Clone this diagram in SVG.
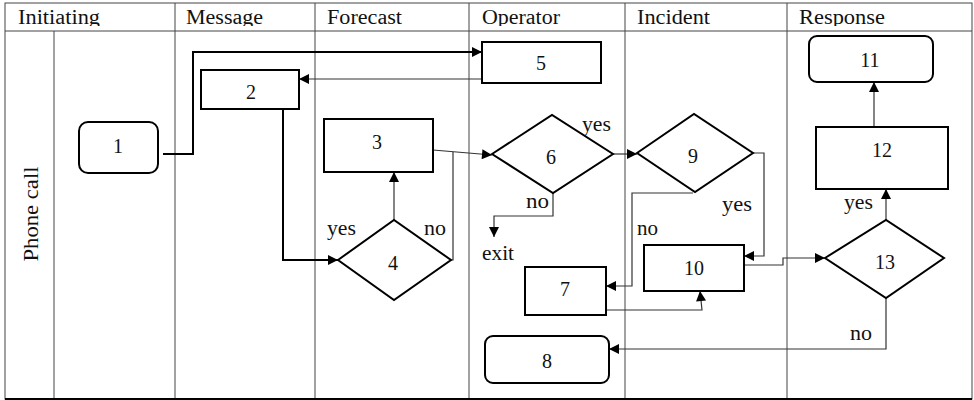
<svg xmlns="http://www.w3.org/2000/svg" width="974" height="400" viewBox="0 0 974 400">
<style>
.t{font-family:"Liberation Serif","Times New Roman",serif;font-size:20px;fill:#111}
.m{text-anchor:middle}
.grid{stroke:#444;stroke-width:1;fill:none}
.box{fill:#fff;stroke:#000;stroke-width:2}
.thin{fill:none;stroke:#333;stroke-width:1.2}
.thick{fill:none;stroke:#000;stroke-width:2}
.arr{marker-end:url(#ah)}
</style>
<defs>
<marker id="ah" viewBox="0 0 10 10" refX="10" refY="5" markerWidth="11" markerHeight="10" markerUnits="userSpaceOnUse" orient="auto">
<path d="M0,0 L10,5 L0,10 z" fill="#000"/>
</marker>
<clipPath id="hdr"><rect x="0" y="0" width="974" height="26"/></clipPath>
</defs>
<rect x="0" y="0" width="974" height="400" fill="#fff"/>
<g id="table">
<rect class="grid" x="5" y="3" width="967" height="396"/>
<line class="grid" x1="5" y1="31" x2="972" y2="31"/>
<line class="grid" x1="54" y1="31" x2="54" y2="399"/>
<line class="grid" x1="175" y1="3" x2="175" y2="399"/>
<line class="grid" x1="315" y1="3" x2="315" y2="399"/>
<line class="grid" x1="469" y1="3" x2="469" y2="399"/>
<line class="grid" x1="625" y1="3" x2="625" y2="399"/>
<line class="grid" x1="787" y1="3" x2="787" y2="399"/>
<line x1="5" y1="399" x2="972" y2="399" stroke="#000" stroke-width="2"/>
<g clip-path="url(#hdr)">
<text class="t" x="18" y="24" textLength="82" lengthAdjust="spacingAndGlyphs">Initiating</text>
<text class="t" x="186" y="24" textLength="77" lengthAdjust="spacingAndGlyphs">Message</text>
<text class="t" x="327" y="24" textLength="75" lengthAdjust="spacingAndGlyphs">Forecast</text>
<text class="t" x="482" y="24" textLength="78" lengthAdjust="spacingAndGlyphs">Operator</text>
<text class="t" x="637" y="24" textLength="73" lengthAdjust="spacingAndGlyphs">Incident</text>
<text class="t" x="799" y="24" textLength="86" lengthAdjust="spacingAndGlyphs">Response</text>
</g>
<text class="t m" transform="translate(38,214) rotate(-90)" textLength="95" lengthAdjust="spacingAndGlyphs">Phone call</text>
</g>
<g id="connectors">
<path class="thick arr" d="M163,154 H193 V52 H482"/>
<path class="thin arr" d="M482,79 H299"/>
<path class="thick arr" d="M283,109 V260 H338"/>
<path class="thin arr" d="M394,220 V172"/>
<path class="thin arr" d="M433,150 L492,155"/>
<path class="thin" d="M451,260 H453 V152"/>
<path class="thin arr" d="M613,154 H637"/>
<path class="thin arr" d="M553,193 V216 H494 V237"/>
<path class="thin arr" d="M753,153 H764 V256 H744"/>
<path class="thin arr" d="M693,193 H632 V286 H606"/>
<path class="thin arr" d="M606,310 H702 L700,291"/>
<path class="thin arr" d="M744,265 H783 V258 H825"/>
<path class="thin arr" d="M886,220 V189"/>
<path class="thin arr" d="M874,127 V82"/>
<path class="thin arr" d="M886,298 V349 H609"/>
<text class="t" x="327" y="235" textLength="29" lengthAdjust="spacingAndGlyphs">yes</text>
<text class="t" x="424" y="235" textLength="22" lengthAdjust="spacingAndGlyphs">no</text>
<text class="t" x="582" y="131" textLength="29" lengthAdjust="spacingAndGlyphs">yes</text>
<text class="t" x="526" y="208" textLength="23" lengthAdjust="spacingAndGlyphs">no</text>
<text class="t" x="482" y="260" textLength="32" lengthAdjust="spacingAndGlyphs">exit</text>
<text class="t" x="722" y="211" textLength="30" lengthAdjust="spacingAndGlyphs">yes</text>
<text class="t" x="637" y="235" textLength="21" lengthAdjust="spacingAndGlyphs">no</text>
<text class="t" x="844" y="209" textLength="29" lengthAdjust="spacingAndGlyphs">yes</text>
<text class="t" x="850" y="340" textLength="22" lengthAdjust="spacingAndGlyphs">no</text>
</g>
<g id="n1"><rect class="box" x="79" y="122" width="79" height="51" rx="9"/><text class="t m" x="118" y="153">1</text></g>
<g id="n2"><rect class="box" x="201" y="70" width="98" height="39"/><text class="t m" x="251" y="99">2</text></g>
<g id="n3"><rect class="box" x="324" y="119" width="109" height="53"/><text class="t m" x="377" y="149">3</text></g>
<g id="n4"><path class="box" d="M338,260 L394,220 L451,260 L394,300 Z"/><text class="t m" x="393" y="270">4</text></g>
<g id="n5"><rect class="box" x="482" y="42" width="119" height="41"/><text class="t m" x="541" y="70">5</text></g>
<g id="n6"><path class="box" d="M492,154 L552,115 L613,154 L553,193 Z"/><text class="t m" x="551" y="164">6</text></g>
<g id="n7"><rect class="box" x="525" y="267" width="81" height="48"/><text class="t m" x="565" y="296">7</text></g>
<g id="n8"><rect class="box" x="485" y="336" width="124" height="47" rx="8"/><text class="t m" x="547" y="368">8</text></g>
<g id="n9"><path class="box" d="M637,153 L694,114 L753,153 L695,192 Z"/><text class="t m" x="693" y="163">9</text></g>
<g id="n10"><rect class="box" x="644" y="245" width="100" height="46"/><text class="t m" x="694" y="275">10</text></g>
<g id="n11"><rect class="box" x="809" y="36" width="124" height="46" rx="8"/><text class="t m" x="870" y="67">11</text></g>
<g id="n12"><rect class="box" x="816" y="127" width="132" height="62"/><text class="t m" x="882" y="157">12</text></g>
<g id="n13"><path class="box" d="M825,258 L886,220 L944,258 L886,298 Z"/><text class="t m" x="885" y="269">13</text></g>
</svg>
